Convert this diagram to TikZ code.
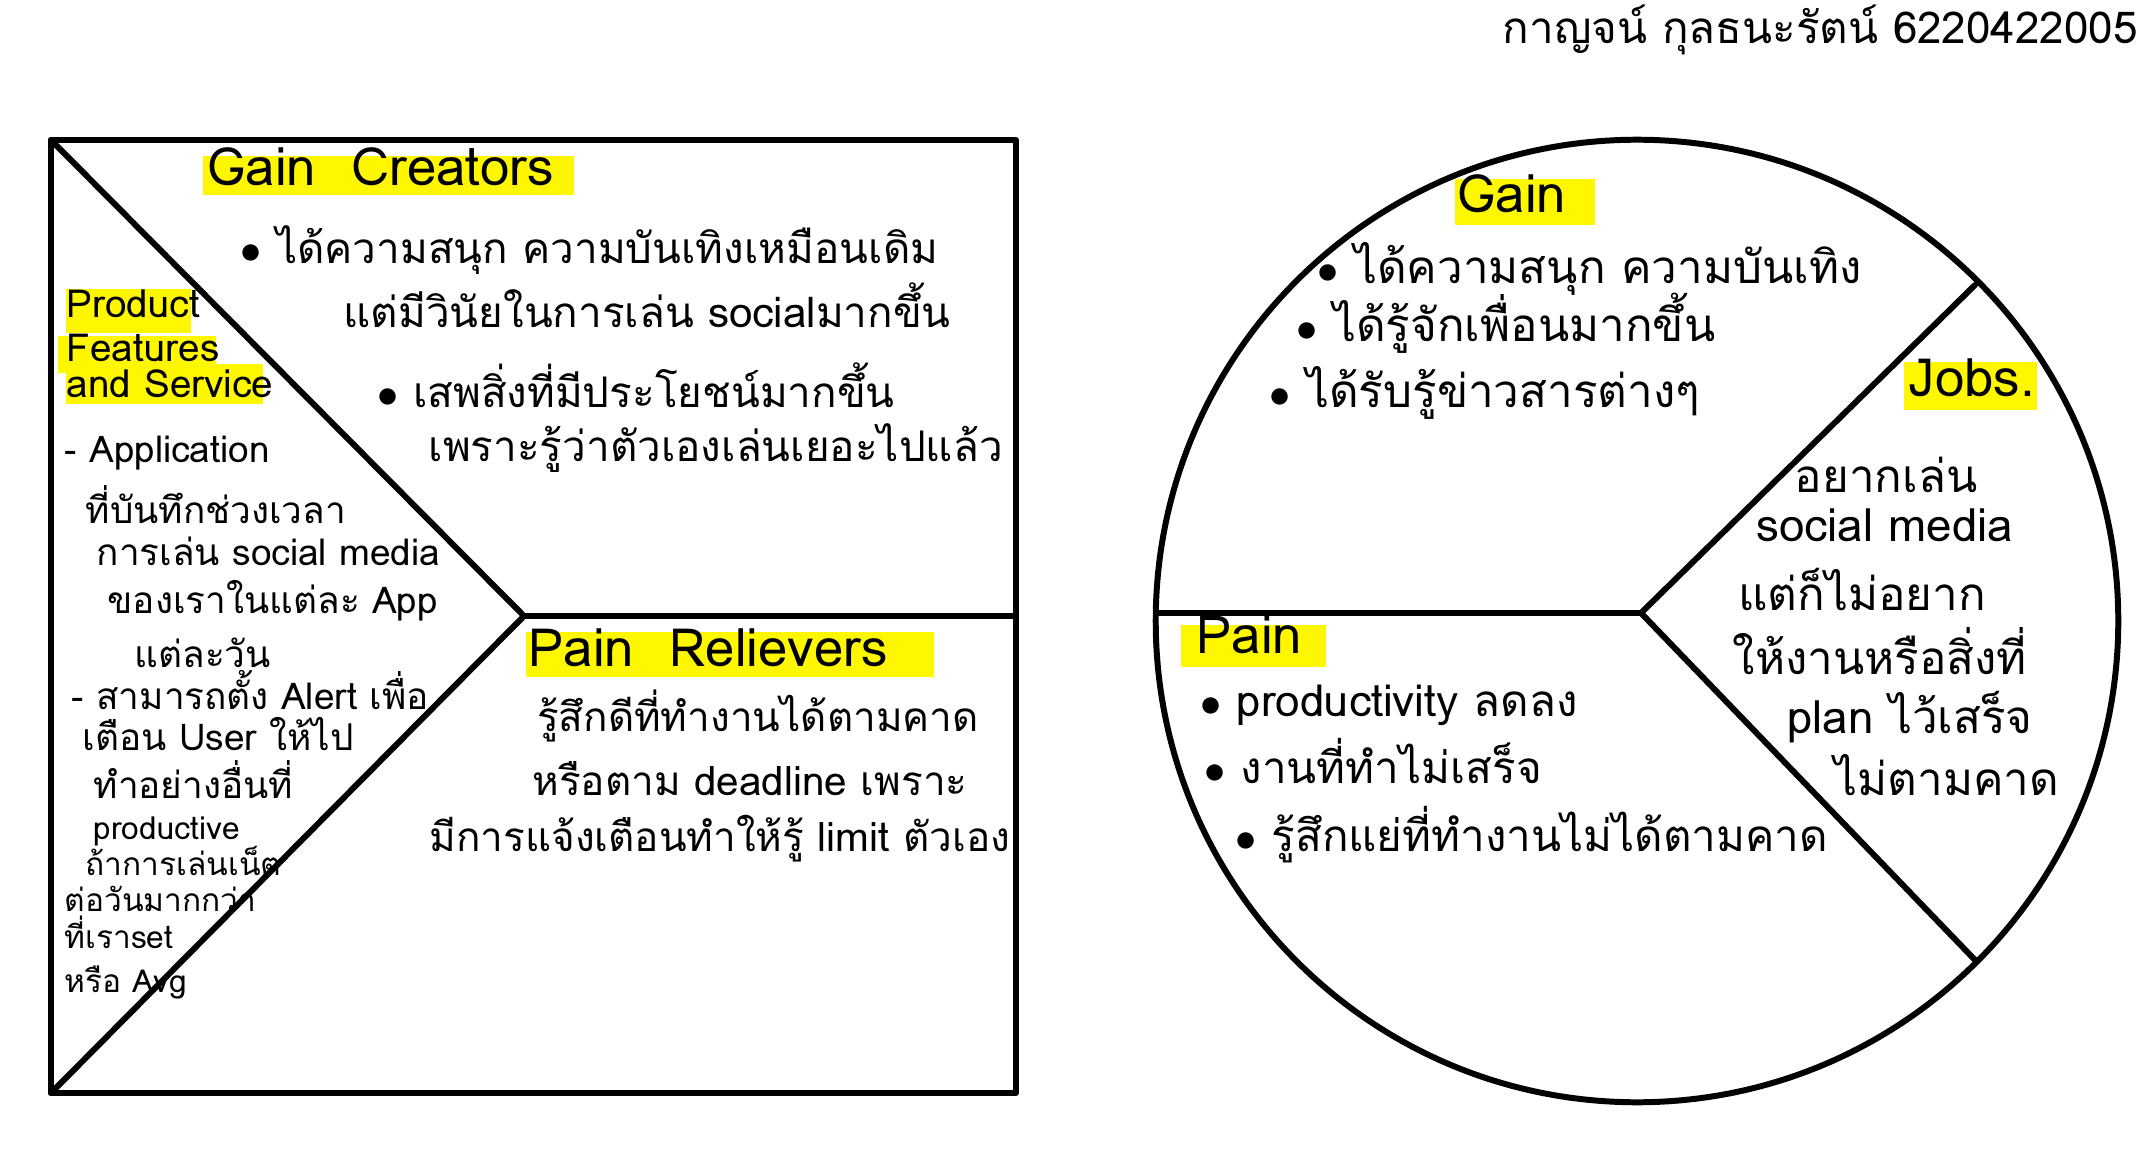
\documentclass[tikz,border=0pt]{standalone}
\usepackage{fontspec}
\setmainfont[Script=Thai]{Loma}
\definecolor{hl}{HTML}{FFF700}
\newcommand{\fsz}[1]{\fontsize{#1pt}{#1pt}\selectfont}
\newcommand{\bul}{$\bullet$\ }
\begin{document}
\begin{tikzpicture}[x=0.01cm,y=-0.01cm,
  frame/.style={line width=1.7pt, line join=round, line cap=round},
  hlr/.style={fill=hl, anchor=north west, inner sep=0pt, minimum width=#1},
  ln/.style={anchor=mid west, inner sep=0pt},
  lc/.style={anchor=mid, inner sep=0pt},
  gcfont/.style={font=\fsz{12}},
  pffont/.style={font=\fsz{10.5}},
  pfsmall/.style={font=\fsz{9}},
  prfont/.style={font=\fsz{11.5}},
  gfont/.style={font=\fsz{13}},
  jfont/.style={font=\fsz{13}},
  pfont/.style={font=\fsz{12.5}},
  hdfont/.style={font=\fsz{15}},
  pfh/.style={font=\fsz{11}}
]
\useasboundingbox (0,0) rectangle (2151,1173);
\fill[white] (0,0) rectangle (2151,1173);

% header
\node[ln, font=\fsz{12.5}] (hdr) at (1502,34) {กาญจน์ กุลธนะรัตน์ 6220422005};

% ---------- value map square ----------
\coordinate (tl) at (51,140);
\coordinate (tr) at (1016,140);
\coordinate (br) at (1016,1093);
\coordinate (bl) at (51,1093);
\coordinate (mj) at (524,616);
\coordinate (mr) at (1016,616);
\draw[frame] (tl) -- (tr) -- (br) -- (bl) -- cycle;
\draw[frame] (tl) -- (mj) -- (bl);
\draw[frame] (mj) -- (mr);

% Gain Creators
\node[hlr=3.71cm, minimum height=0.39cm] (gchl) at (202,155) {};
\node[ln, hdfont] (gch) at (207,176) {Gain\ \ Creators};
\node[ln, gcfont] (gc1) at (240,254) {\bul ได้ความสนุก ความบันเทิงเหมือนเดิม};
\node[ln, gcfont] (gc2) at (343,318) {แต่มีวินัยในการเล่น socialมากขึ้น};
\node[ln, gcfont] (gc3) at (377,398) {\bul เสพสิ่งที่มีประโยชน์มากขึ้น};
\node[ln, gcfont] (gc4) at (428,452) {เพราะรู้ว่าตัวเองเล่นเยอะไปแล้ว};

% Product Features and Service
\node[hlr=1.25cm, minimum height=0.44cm] (pf1hl) at (65,288) {};
\node[hlr=1.58cm, minimum height=0.37cm] (pf2hl) at (57,335) {};
\node[hlr=1.97cm, minimum height=0.40cm] (pf3hl) at (65,363) {};
\node[ln, pfh] (pf1) at (66,308) {Product};
\node[ln, pfh] (pf2) at (66,352) {Features};
\node[ln, pfh] (pf3) at (66,388) {and Service};
\node[ln, pffont] (p1) at (64,453) {- Application};
\node[ln, pffont] (p2) at (85,514) {ที่บันทึกช่วงเวลา};
\node[ln, pffont] (p3) at (96,556) {การเล่น social media};
\node[ln, pffont] (p4) at (107,604) {ของเราในแต่ละ App};
\node[ln, pffont] (p5) at (134,658) {แต่ละวัน};
\node[ln, pffont] (p6) at (71,700) {- สามารถตั้ง Alert เพื่อ};
\node[ln, pffont] (p7) at (82,741) {เตือน User ให้ไป};
\node[ln, pffont] (p8) at (93,789) {ทำอย่างอื่นที่};
\node[ln, pfsmall] (p9) at (93,830) {productive};
\node[ln, pfsmall] (p10) at (85,866) {ถ้าการเล่นเน็ต};
\node[ln, pfsmall] (p11) at (64,902) {ต่อวันมากกว่า};
\node[ln, pfsmall] (p12) at (64,939) {ที่เราset};
\node[ln, pfsmall] (p13) at (64,983) {หรือ Avg};

% Pain Relievers
\node[hlr=4.08cm, minimum height=0.45cm] (prhl) at (525,631) {};
\node[ln, hdfont] (prh) at (528,657) {Pain\ \ Relievers};
\node[lc, prfont] (pr1) at (758,722) {รู้สึกดีที่ทำงานได้ตามคาด};
\node[lc, prfont] (pr2) at (750,786) {หรือตาม deadline เพราะ};
\node[lc, prfont] (pr3) at (720,842) {มีการแจ้งเตือนทำให้รู้ limit ตัวเอง};

% ---------- customer profile circle ----------
\coordinate (cc) at (1637,621);
\coordinate (cj) at (1641,613);
\coordinate (cl) at (1157,613);
\coordinate (cur) at (1975,285);
\coordinate (clr) at (1975,960);
\draw[frame] (cc) circle [radius=4.81cm];
\draw[frame] (cl) -- (cj) -- (cur);
\draw[frame] (cj) -- (clr);

% Gain
\node[hlr=1.40cm, minimum height=0.46cm] (ghl) at (1454,178) {};
\node[ln, hdfont] (gh) at (1457,203) {Gain};
\node[ln, gfont] (g1) at (1317,274) {\bul ได้ความสนุก ความบันเทิง};
\node[ln, gfont] (g2) at (1296,332) {\bul ได้รู้จักเพื่อนมากขึ้น};
\node[ln, gfont] (g3) at (1269,398) {\bul ได้รับรู้ข่าวสารต่างๆ};

% Jobs
\node[hlr=1.33cm, minimum height=0.48cm] (jhl) at (1903,361) {};
\node[ln, hdfont] (jh) at (1908,387) {Jobs.};
\node[lc, jfont] (j1) at (1886,483) {อยากเล่น};
\node[lc, jfont] (j2) at (1885,532) {social media};
\node[lc, jfont] (j3) at (1862,601) {แต่ก็ไม่อยาก};
\node[lc, jfont] (j4) at (1880,665) {ให้งานหรือสิ่งที่};
\node[lc, jfont] (j5) at (1910,724) {plan ไว้เสร็จ};
\node[lc, jfont] (j6) at (1947,786) {ไม่ตามคาด};

% Pain
\node[hlr=1.45cm, minimum height=0.42cm] (phl) at (1180,624) {};
\node[ln, hdfont] (ph) at (1196,644) {Pain};
\node[ln, pfont] (q1) at (1200,707) {\bul productivity ลดลง};
\node[ln, pfont] (q2) at (1204,774) {\bul งานที่ทำไม่เสร็จ};
\node[ln, pfont] (q3) at (1235,842) {\bul รู้สึกแย่ที่ทำงานไม่ได้ตามคาด};
\end{tikzpicture}
\end{document}
